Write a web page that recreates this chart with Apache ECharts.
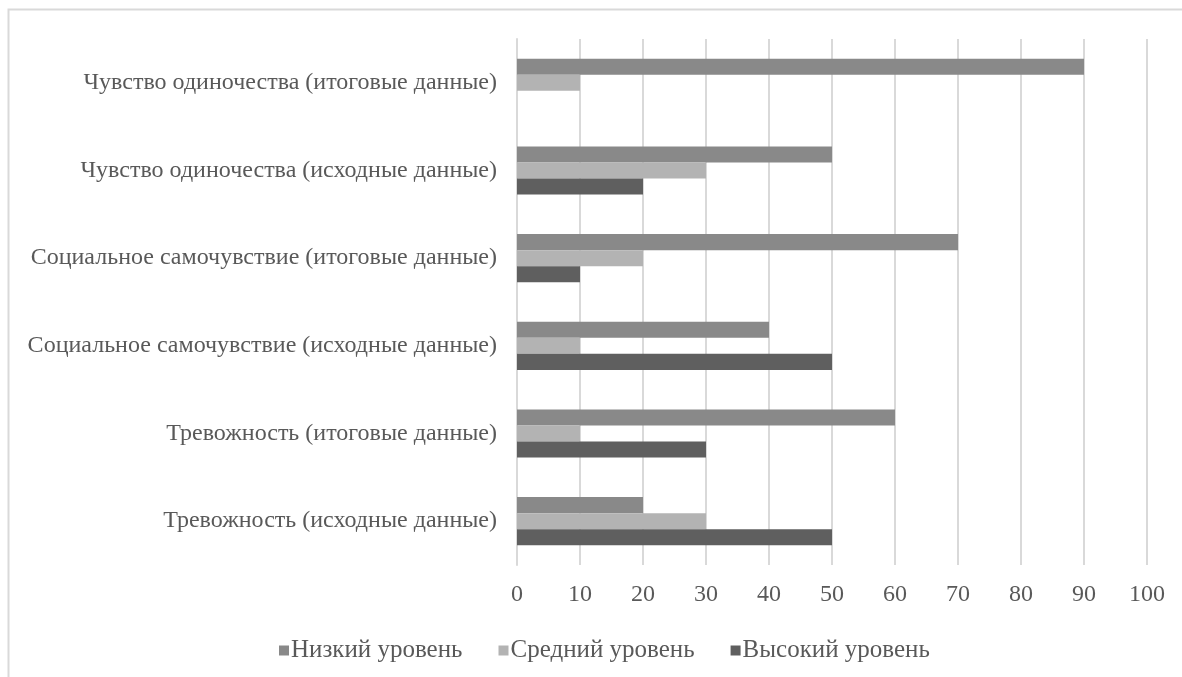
<!DOCTYPE html>
<html>
<head>
<meta charset="utf-8">
<script src="https://cdn.jsdelivr.net/npm/echarts@6/dist/echarts.min.js"></script>
<style>
  html, body { margin: 0; padding: 0; background: #ffffff; }
  #chart { width: 1182px; height: 677px; }
</style>
</head>
<body>
<div id="chart"></div>
<script>
// Categories, listed top to bottom
const categories = [
  'Чувство одиночества (итоговые данные)',
  'Чувство одиночества (исходные данные)',
  'Социальное самочувствие (итоговые данные)',
  'Социальное самочувствие (исходные данные)',
  'Тревожность (итоговые данные)',
  'Тревожность (исходные данные)'
];
const seriesNames = ['Низкий уровень', 'Средний уровень', 'Высокий уровень'];
const lowLevel = [90, 50, 70, 40, 60, 20];
const midLevel = [10, 30, 20, 10, 10, 30];
const highLevel = [0, 20, 10, 50, 30, 50];
const xTicks = [0, 10, 20, 30, 40, 50, 60, 70, 80, 90, 100];

const FONT = '"Liberation Serif", "DejaVu Serif", serif';
const TEXT = '#595959';
const GRID = '#d9d9d9';

const chart = echarts.init(document.getElementById('chart'), null, { renderer: 'canvas' });

const colors = ['#898989', '#b3b3b3', '#5f5f5f'];
const values = [lowLevel, midLevel, highLevel];

chart.setOption({
  animation: false,
  backgroundColor: '#ffffff',
  graphic: [{
    type: 'rect',
    shape: { x: 8.5, y: 9.5, width: 1200, height: 700 },
    style: { fill: 'none', stroke: GRID, lineWidth: 2 },
    silent: true,
    z: -1
  }],
  legend: {
    data: seriesNames,
    left: 274,
    top: 633,
    itemWidth: 10,
    itemHeight: 10,
    itemGap: 36,
    icon: 'rect',
    textStyle: { fontFamily: FONT, fontSize: 25, color: TEXT, padding: [0, 0, 0, -3] }
  },
  grid: { left: 517, right: 35, top: 39, bottom: 112, containLabel: false },
  xAxis: {
    type: 'value',
    min: xTicks[0],
    max: xTicks[xTicks.length - 1],
    interval: 10,
    axisLine: { show: false },
    axisTick: { show: false },
    splitLine: { show: true, lineStyle: { color: GRID, width: 2 } },
    axisLabel: { fontFamily: FONT, fontSize: 24, color: TEXT, margin: 18 }
  },
  yAxis: {
    type: 'category',
    data: categories,
    inverse: true,
    axisLine: { show: true, lineStyle: { color: GRID, width: 2 } },
    axisTick: { show: false },
    axisLabel: { fontFamily: FONT, fontSize: 24, color: TEXT, margin: 20 }
  },
  series: seriesNames.map((name, i) => ({
    name,
    type: 'bar',
    data: values[i],
    barGap: '0%',
    barCategoryGap: '45%',
    itemStyle: { color: colors[i] }
  }))
});
</script>
</body>
</html>
